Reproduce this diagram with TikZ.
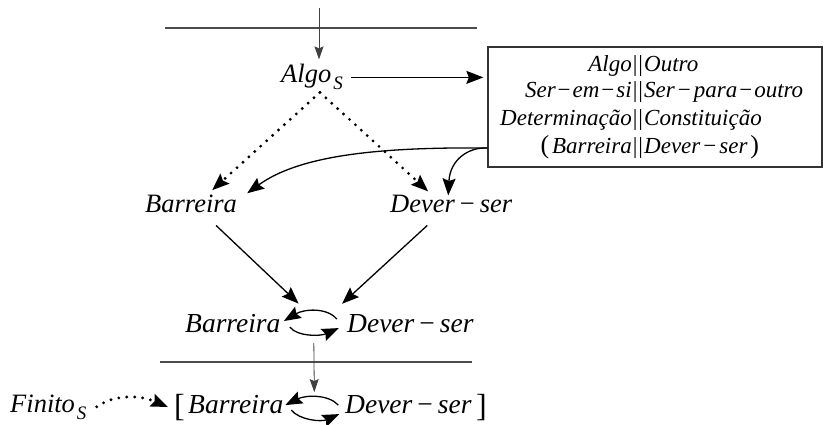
\documentclass[tikz,border=0pt]{standalone}
\usepackage{fontspec}
\setmainfont{Liberation Serif}
\usetikzlibrary{arrows.meta,calc}
% upright minus with adjustable side space
\newcommand\mnus[1]{\hspace{#1}{\upshape −}\hspace{#1}}
% lowered subscript S
\newcommand\subS[1]{\hspace{2pt}\raisebox{-7pt}{\fontsize{#1}{#1}\selectfont S}}
\newcommand\pipes{{\upshape|\kern1pt|}}

\begin{document}
\begin{tikzpicture}[x=1pt,y=-1pt,
  lab/.style={inner sep=0pt, text=black, font=\fontsize{26.5}{30}\selectfont\itshape},
  labb/.style={lab, font=\fontsize{27.5}{30}\selectfont\itshape},
  boxline/.style={inner sep=0pt, text=black, font=\fontsize{23}{25}\selectfont\itshape},
  tip/.style={-{Stealth[length=17pt,width=13pt,inset=2.5pt]}},
  arr/.style={tip, line width=1.3pt},
  feed/.style={line width=0.8pt, draw=black!75, -{Stealth[length=13pt,width=9pt,inset=2pt]}},
  dotarr/.style={tip, line width=3.2pt, dash pattern=on 0pt off 8pt, line cap=round},
  rule/.style={line width=1.8pt, draw=black!70},
]
\useasboundingbox (0,0) rectangle (825,425);

% horizontal rules
\draw[rule] (165,28) -- (477,28);
\draw[rule] (160,362) -- (472,362);

% top entry
\node[lab, anchor=base west] (algo) at (281,83) {Algo\subS{19}};
\coordinate (entry) at (319,8);
\draw[feed] (entry) -- (entry |- algo.north) [shorten >=5pt];

% framed box of oppositions
\node[draw=black!80, line width=1.3pt, minimum width=334pt, minimum height=120pt, inner sep=0pt] (box) at (655,107) {};
\node[boxline, anchor=base east] (l1a) at (632,72) {Algo};
\node[boxline, anchor=base] (p1) at (638,72) {\pipes};
\node[boxline, anchor=base west] (l1b) at (644,72) {Outro};
\node[boxline, anchor=base east] (l2a) at (632,98) {Ser\mnus{2pt}em\mnus{2pt}si};
\node[boxline, anchor=base] (p2) at (638,98) {\pipes};
\node[boxline, anchor=base west] (l2b) at (644,98) {Ser\mnus{3pt}para\mnus{2pt}outro};
\node[boxline, anchor=base east] (l3a) at (632,126) {Determinação};
\node[boxline, anchor=base] (p3) at (638,126) {\pipes};
\node[boxline, anchor=base west] (l3b) at (644,126) {Constituição};
\node[boxline, anchor=base east] (l4a) at (632,154) {{\upshape\fontsize{26}{26}\selectfont(}\hspace{3pt}Barreira};
\node[boxline, anchor=base] (p4) at (638,154) {\pipes};
\node[boxline, anchor=base west] (l4b) at (644,154) {Dever\mnus{3pt}ser\hspace{3pt}{\upshape\fontsize{26}{26}\selectfont)}};

\draw[arr] ([xshift=8pt]algo.east) -- (box.west |- algo.east) [shorten >=4pt];

% second row
\node[lab, anchor=base west] (barr) at (145,212) {Barreira};
\node[lab, anchor=base west] (dever) at (390,212) {Dever\mnus{5pt}ser};

\coordinate (apex) at ([xshift=8pt,yshift=-2pt]algo.south);
\draw[dotarr] (apex) -- ([xshift=21pt,yshift=4pt]barr.north);
\draw[dotarr] (apex) -- ([xshift=-23pt,yshift=3pt]dever.north);

\coordinate (boxout) at ([yshift=-41pt]box.west);
\draw[arr] (boxout) .. controls (380,147) and (300,155) .. ([xshift=10pt,yshift=1pt]barr.north east);
\draw[arr] (boxout) .. controls (468,147) and (450,160) .. ([xshift=-3pt,yshift=-1pt]dever.north);

% third row
\node[labb, anchor=base west] (barr3) at (185,332) {Barreira};
\node[labb, anchor=base west] (dever3) at (347,332) {Dever\mnus{5pt}ser};
\draw[arr] ([xshift=25pt,yshift=-13pt]barr.south) -- ([xshift=18pt,yshift=10pt]barr3.north east);
\draw[arr] ([xshift=-24pt,yshift=-13pt]dever.south) -- ([xshift=-5pt,yshift=10pt]dever3.north west);

\coordinate (sw3) at ($(barr3.east)!0.5!(dever3.west)$);
\draw[arr] ([xshift=23pt,yshift=4pt]sw3) .. controls +(-10,-12) and +(20,-12) .. ([xshift=-30pt,yshift=2pt]sw3);
\draw[arr] ([xshift=-24pt,yshift=-4pt]sw3) .. controls +(8,10) and +(-18,8) .. ([xshift=25pt,yshift=-5pt]sw3);

% fourth row
\node[lab, anchor=base west] (finito) at (10,412) {Finito\subS{19}};
\node[inner sep=0pt, anchor=base west, font=\fontsize{32}{32}\selectfont] (lbr) at (174,416) {[};
\node[labb, anchor=base west] (barr4) at (188,413) {Barreira};
\node[labb, anchor=base west] (dever4) at (345,413) {Dever\mnus{5pt}ser};
\node[inner sep=0pt, anchor=base west, font=\fontsize{32}{32}\selectfont] (rbr) at (476,416) {]};

\coordinate (sw4) at ($(barr4.east)!0.5!(dever4.west)$);
\draw[arr] ([xshift=24pt,yshift=-1pt]sw4) .. controls +(-10,-11) and +(20,-10) .. ([xshift=-29pt,yshift=-1pt]sw4);
\draw[arr] ([xshift=-23pt,yshift=-6pt]sw4) .. controls +(8,10) and +(-18,8) .. ([xshift=25pt,yshift=-10pt]sw4);

\draw[feed] ([yshift=-20pt]sw3) -- ([yshift=12pt]sw4);

\draw[dotarr] ([xshift=10pt]finito.east) .. controls (115,394) and (140,395) .. ([xshift=-6pt]lbr.west);
\end{tikzpicture}
\end{document}
